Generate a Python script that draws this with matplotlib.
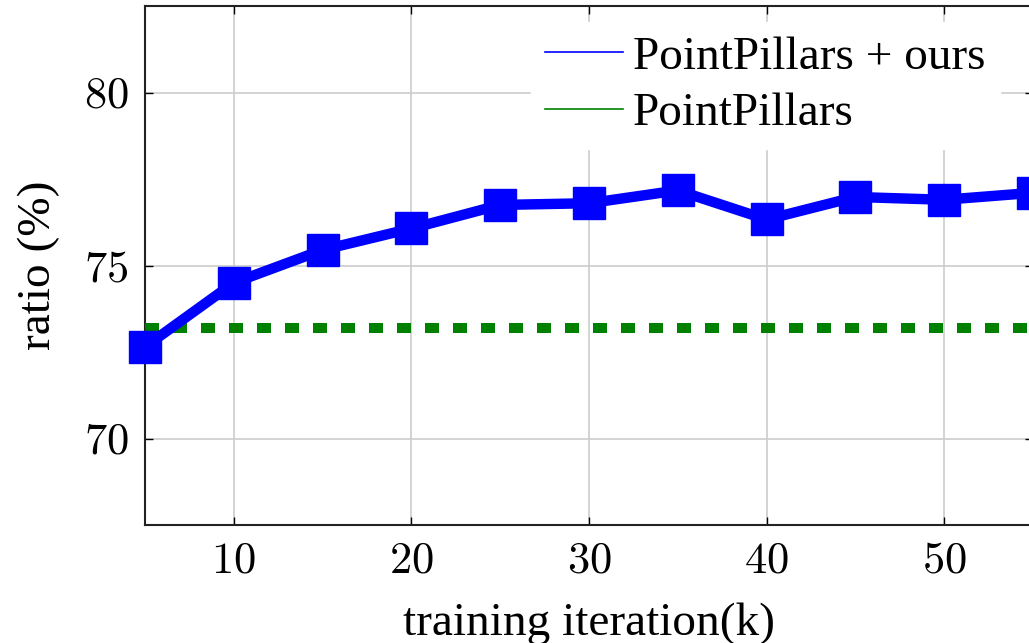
import matplotlib.pyplot as plt
from matplotlib.lines import Line2D
from matplotlib.ticker import FuncFormatter

# ratio over training iterations (k)
iteracoes = [5, 10, 15, 20, 25, 30, 35, 40, 45, 50, 55]
ratio_ours = [72.65, 74.5, 75.45, 76.07, 76.75, 76.8, 77.17, 76.33, 76.98, 76.9, 77.1]
baseline_x = [5, 55]
baseline_y = [73.2, 73.2]

plt.rcParams['font.family'] = ['Liberation Serif', 'DejaVu Serif']
plt.rcParams['mathtext.fontset'] = 'cm'

fig = plt.figure(figsize=(10.29, 6.43), dpi=100)
ax = fig.add_axes([145 / 1029, 118 / 643, 888 / 1029, 519 / 643])

ax.plot(baseline_x, baseline_y, color='#008000', linewidth=7.2,
        linestyle=(0, (1.4, 1.4)), dash_capstyle='butt', zorder=3)
ax.plot(iteracoes, ratio_ours, color='#0000ff', linewidth=7.5,
        marker='s', markersize=22.5, zorder=4, clip_on=False)

ax.set_xlim(5, 55)
ax.set_ylim(67.5, 82.5)
ax.set_xticks([10, 20, 30, 40, 50])
ax.set_yticks([70, 75, 80])
ax.xaxis.set_major_formatter(FuncFormatter(lambda v, p: f'${v:.0f}$'))
ax.yaxis.set_major_formatter(FuncFormatter(lambda v, p: f'${v:.0f}$'))
ax.tick_params(axis='both', direction='in', length=6, width=1, labelsize=32,
               pad=12, top=True, right=True)
ax.grid(True, color='#cccccc', linewidth=1.2)
ax.set_axisbelow(True)
for s in ax.spines.values():
    s.set_linewidth(1.5)
    s.set_color('#222222')

ax.set_xlabel('training iteration(k)', fontsize=34, labelpad=15)
ax.set_ylabel('ratio (%)', fontsize=34, labelpad=17)

handles = [Line2D([], [], color='#0000ff', linewidth=1.2),
           Line2D([], [], color='#008000', linewidth=1.2)]
fig.legend(handles, ['PointPillars + ours', 'PointPillars'],
           loc='upper left', bbox_to_anchor=(507 / 1029, 1 + 2 / 643),
           fontsize=34, frameon=True, edgecolor='white', facecolor='white',
           framealpha=1, fancybox=False, handlelength=1.65, handletextpad=0.22,
           labelspacing=0.28, borderpad=0.3)

plt.savefig('out.png', dpi=100)
